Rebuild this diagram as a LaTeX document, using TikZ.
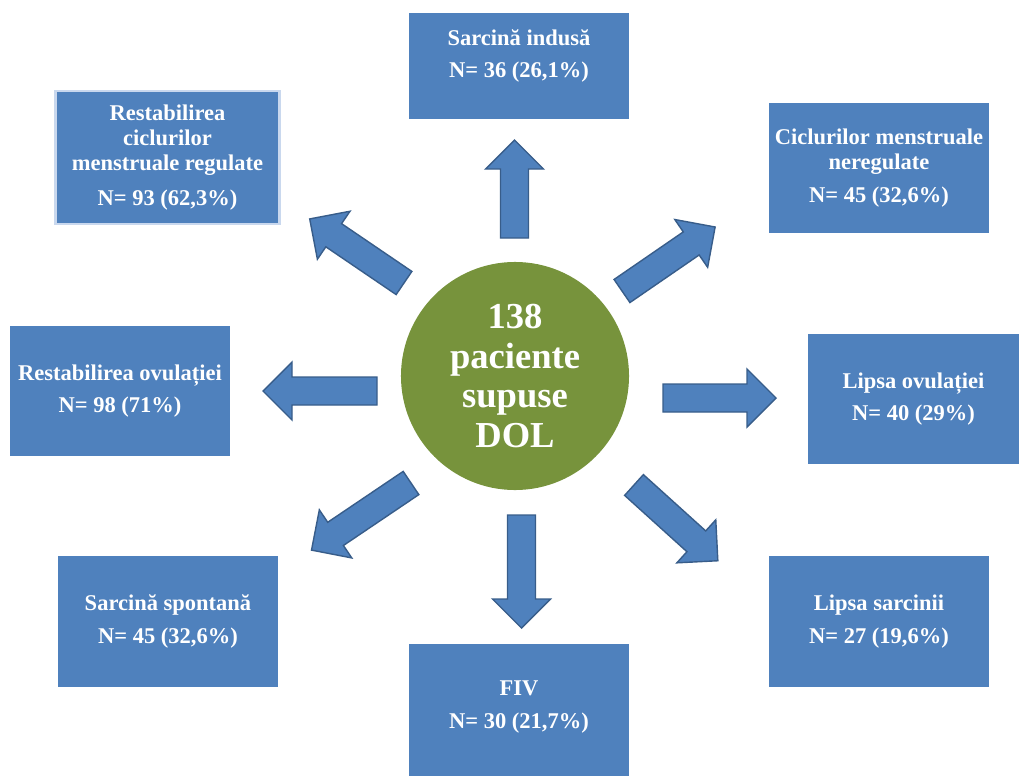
\documentclass[tikz,border=0pt]{standalone}
\usepackage{fontspec}
\setmainfont{Liberation Serif}

\definecolor{boxblue}{HTML}{4F81BD}
\definecolor{arrowedge}{HTML}{385D8A}
\definecolor{hubgreen}{HTML}{77933C}
\definecolor{paleedge}{HTML}{C9D8EE}

\begin{document}
\begin{tikzpicture}[
    x=0.025cm, y=-0.025cm,
    box/.style={rectangle, fill=boxblue, inner sep=0pt, minimum width=5.5cm, minimum height=3.275cm, text=white, align=center, font=\fontsize{16}{18}\selectfont\bfseries},
    boxtext/.style={inner sep=0pt, text=white, align=center, font=\fontsize{16}{18}\selectfont\bfseries},
    hub/.style={circle, fill=hubgreen, inner sep=0pt, minimum size=5.7cm, text=white, align=center, font=\fontsize{26}{28}\selectfont\bfseries},
    arrowbody/.style={fill=boxblue, draw=arrowedge, line width=1pt, line join=miter},
    pics/blockarrow/.style={code={
        \draw[arrowbody] (0,-14) -- (#1-29,-14) -- (#1-29,-29) -- (#1,0) -- (#1-29,29) -- (#1-29,14) -- (0,14) -- cycle;}}
]
\useasboundingbox (0,0) rectangle (1019,776);

% centre
\node[hub] (dol) at (515,376) {138\\paciente\\supuse\\DOL};

% outcome boxes
\node[box, minimum height=2.65cm] (indusa) at (519,66) {};
\node[boxtext] (indusatext) at (519,56) {Sarcină indusă\\[5pt]N= 36 (26,1\%)};
\node[box, minimum width=5.6cm, minimum height=3.325cm, draw=paleedge, line width=2pt] (regulate) at (167.5,157.5)
    {Restabilirea\\ciclurilor\\menstruale regulate\\[7pt]N= 93 (62,3\%)};
\node[box, minimum height=3.25cm] (neregulate) at (879,168) {Ciclurilor menstruale\\neregulate\\[5pt]N= 45 (32,6\%)};
\node[box, minimum height=3.25cm] (ovulatie) at (120,391) {Restabilirea ovulației\\[5pt]N= 98 (71\%)};
\node[box, minimum width=5.275cm, minimum height=3.25cm] (lipsaovul) at (913.5,399) {Lipsa ovulației\\[5pt]N= 40 (29\%)};
\node[box] (spontana) at (168,621.5) {Sarcină spontană\\[5pt]N= 45 (32,6\%)};
\node[box, minimum height=3.3cm] (fiv) at (519,710) {};
\node[boxtext] (fivtext) at (519,707) {FIV\\[5pt]N= 30 (21,7\%)};
\node[box] (lipsasarc) at (879,621.5) {Lipsa sarcinii\\[5pt]N= 27 (19,6\%)};

% block arrows
\pic (toindusa) [rotate=90] at (514.5,238) {blockarrow=98};
\pic (toregulate) [rotate=145.8] at (404,283) {blockarrow=114};
\pic (toneregulate) [rotate=34.5] at (622,291) {blockarrow=113};
\pic (toovulatie) [rotate=180] at (377,391) {blockarrow=114};
\pic (tolipsaovul) [rotate=0] at (663,398) {blockarrow=113};
\pic (tospontana) [rotate=214] at (411,483) {blockarrow=120};
\pic (tofiv) [rotate=-90] at (521.5,515) {blockarrow=113};
\pic (tolipsasarc) [rotate=-42.1] at (634,485) {blockarrow=113};
\end{tikzpicture}
\end{document}
